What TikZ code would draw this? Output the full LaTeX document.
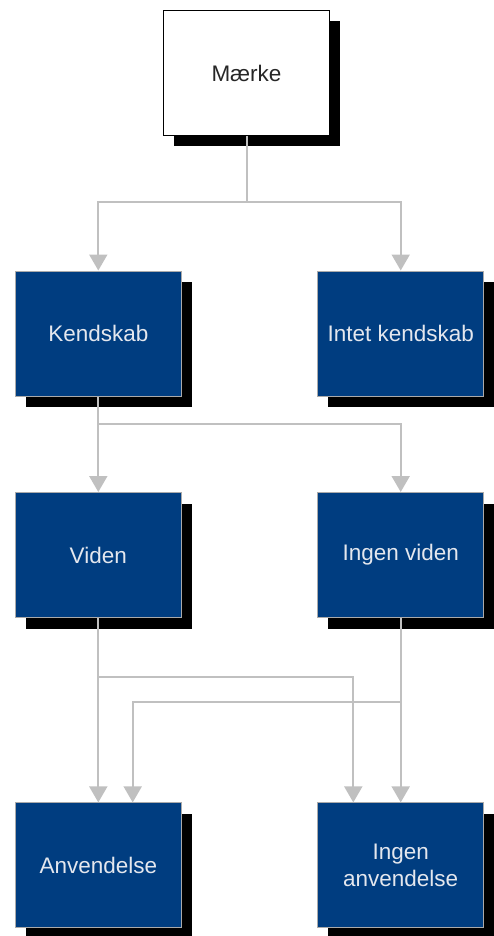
\documentclass[tikz,border=0pt]{standalone}
\usepackage{fontspec}
\setmainfont{Liberation Sans}
\usetikzlibrary{arrows.meta,shadows}

\definecolor{boxnavy}{RGB}{0,61,128}
\definecolor{boxtext}{RGB}{228,231,238}
\definecolor{linkgray}{RGB}{192,192,192}
\definecolor{edgegray}{RGB}{170,170,170}

\tikzset{
  card/.style={rectangle, minimum width=166pt, minimum height=125pt,
    inner sep=2pt, align=center, font=\fontsize{22.5}{27}\selectfont,
    drop shadow={shadow xshift=10.5pt, shadow yshift=-11pt, fill=black, opacity=1}},
  navycard/.style={card, fill=boxnavy, draw=edgegray, line width=1pt, text=boxtext},
  whitecard/.style={card, fill=white, draw=black, line width=1pt, text=black!85},
  conn/.style={draw=linkgray, line width=2pt,
    -{Triangle[width=18pt,length=16pt,fill=linkgray]}},
  plainconn/.style={draw=linkgray, line width=2pt}
}

\begin{document}
\begin{tikzpicture}[x=1pt,y=-1pt]
  \useasboundingbox (0,0) rectangle (494,936);

  % boxes
  \node[whitecard] (maerke)   at (246.5,73)   {Mærke};
  \node[navycard]  (kendskab) at (98.3,333.5) {Kendskab};
  \node[navycard]  (intet)    at (400.7,333.5) {Intet kendskab};
  \node[navycard]  (viden)    at (98.3,555)   {Viden};
  \node[navycard]  (ingviden) at (400.7,555)  {Ingen viden};
  \node[navycard]  (anv)      at (98.3,865.4) {Anvendelse};
  \node[navycard]  (inganv)   at (400.7,865.4) {Ingen\\anvendelse};

  % first level
  \draw[conn] (maerke.south) -- ++(0,66) -| (kendskab.north);
  \draw[conn] (maerke.south) -- ++(0,66) -| (intet.north);

  % second level
  \draw[conn] (kendskab.south) -- (viden.north);
  \draw[conn] (kendskab.south) -- ++(0,27) -| (ingviden.north);

  % third level
  \draw[conn] (viden.south) -- (anv.north);
  \draw[conn] (viden.south) -- ++(0,59) -| ([xshift=-47.4pt]inganv.north);
  \draw[conn] (ingviden.south) -- (inganv.north);
  \draw[conn] (ingviden.south) -- ++(0,84) -| ([xshift=34.4pt]anv.north);
\end{tikzpicture}
\end{document}
